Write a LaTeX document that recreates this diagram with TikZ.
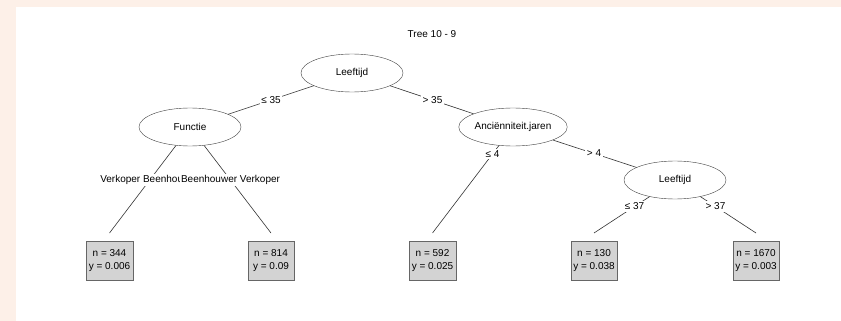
\documentclass[tikz,border=0pt]{standalone}
\usepackage{fontspec}
\setmainfont{Liberation Sans}
\usetikzlibrary{shapes.geometric}
\definecolor{peach}{HTML}{FDF0E8}
\definecolor{leafgray}{HTML}{D3D3D3}
\begin{document}
\begin{tikzpicture}
  [x=1pt,y=-1pt,font=\fontsize{10}{13}\selectfont,
   split/.style={ellipse, draw=black!75, fill=white, minimum width=102pt, minimum height=38pt, inner sep=0pt},
   leaf/.style={rectangle, draw=black!60, fill=leafgray, minimum width=46.5pt, minimum height=39pt, inner sep=0pt, align=center},
   lbl/.style={fill=white, inner sep=1.5pt}]
  \useasboundingbox (0,0) rectangle (841,321);
  \fill[peach] (0,0) rectangle (841,321);
  \fill[white] (16,7) rectangle (841,321);

  \node (title) at (432,34) {Tree 10 - 9};

  \node[split] (n1) at (352,73) {Leeftijd};
  \node[split] (n2) at (190,127) {Functie};
  \node[split] (n3) at (513,127) {Anciënniteit.jaren};
  \node[split] (n4) at (675,180) {Leeftijd};

  \node[leaf] (t1) at (109.5,260.5) {n = 344\\y = 0.006};
  \node[leaf] (t2) at (271,260.5) {n = 814\\y = 0.09};
  \node[leaf] (t3) at (432.5,260.5) {n = 592\\y = 0.025};
  \node[leaf] (t4) at (594,260.5) {n = 130\\y = 0.038};
  \node[leaf] (t5) at (756,260.5) {n = 1670\\y = 0.003};

  \coordinate (e1) at (109.5,233);
  \coordinate (e2) at (271,233);
  \coordinate (e3) at (432.5,233);
  \coordinate (e4) at (594,233);
  \coordinate (e5) at (756,233);

  \foreach \from/\to/\p/\lab in {n1/n2/.5/{≤ 35}, n1/n3/.5/{> 35}, n2/e1/.5/{Verkoper Beenhouwer}, n2/e2/.5/{Beenhouwer Verkoper}, n3/e3/.255/{≤ 4}, n3/n4/.5/{> 4}, n4/e4/.5/{≤ 37}, n4/e5/.5/{> 37}}
  {
    \draw[black!80, line width=0.6pt] (\from) -- (\to);
    \path (\from.center) -- (\to.center) node[lbl, pos=\p] {\lab};
  }

\end{tikzpicture}
\end{document}
